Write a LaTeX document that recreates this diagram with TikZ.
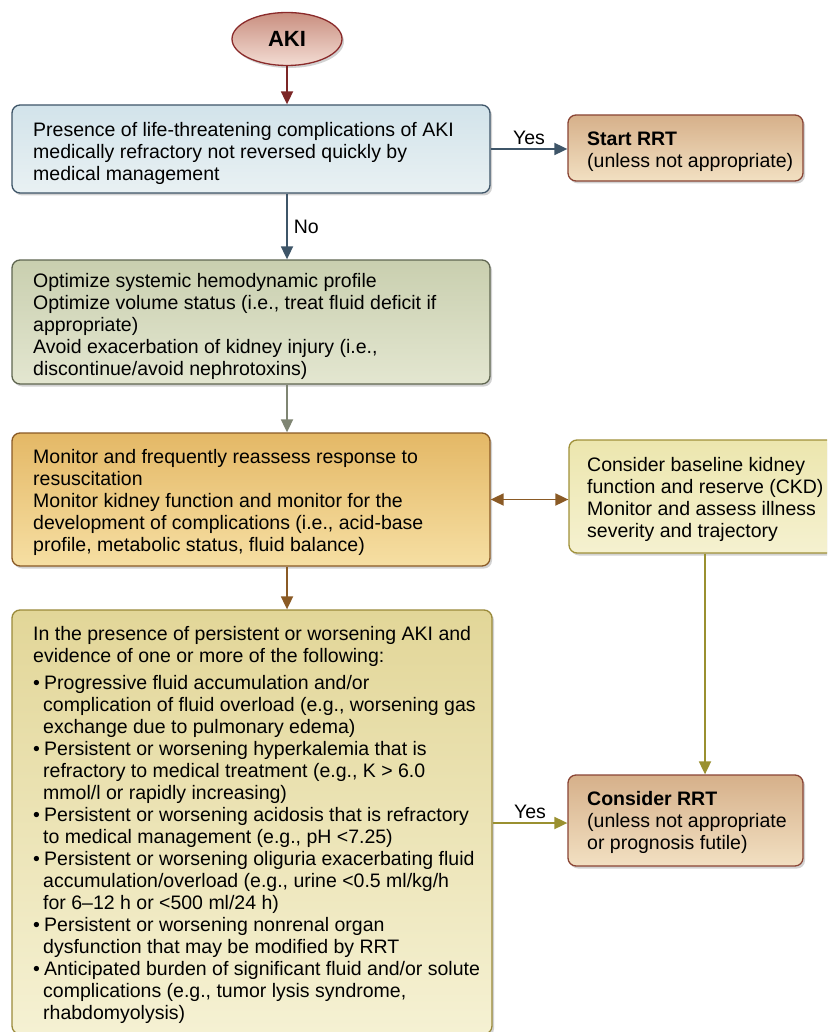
\documentclass[tikz,border=0pt]{standalone}
\usepackage{fontspec}
\setmainfont{Liberation Sans}
\usetikzlibrary{arrows.meta,shadows,shapes.geometric}
\definecolor{akiTop}{HTML}{C98F80}
\definecolor{akiBot}{HTML}{F3DCD3}
\definecolor{akiLine}{HTML}{8A2A2A}
\definecolor{blueTop}{HTML}{D2E3EA}
\definecolor{blueBot}{HTML}{E9F1F3}
\definecolor{blueLine}{HTML}{3E5568}
\definecolor{tanTop}{HTML}{D6B08A}
\definecolor{tanBot}{HTML}{F2E0C2}
\definecolor{tanLine}{HTML}{8A4535}
\definecolor{greenTop}{HTML}{C9CFAF}
\definecolor{greenBot}{HTML}{E3E6D0}
\definecolor{greenLine}{HTML}{5F6650}
\definecolor{goldTop}{HTML}{E4B866}
\definecolor{goldBot}{HTML}{F6DFA3}
\definecolor{goldLine}{HTML}{8A5A25}
\definecolor{paleTop}{HTML}{ECE6AE}
\definecolor{paleBot}{HTML}{F5F1D0}
\definecolor{paleLine}{HTML}{A0913A}
\definecolor{yelTop}{HTML}{E2D698}
\definecolor{yelBot}{HTML}{F5F1D3}
\definecolor{yelLine}{HTML}{9A8A3A}
\definecolor{oliveArrow}{HTML}{9A9030}
\tikzset{
  box/.style={rectangle, rounded corners=8pt, line width=1.3pt, inner sep=0pt,
    drop shadow={shadow xshift=2pt, shadow yshift=-2.5pt, opacity=0.35}},
  txt/.style={anchor=west, align=left, inner sep=0pt,
    font=\fontsize{19.5}{22}\selectfont},
  conn/.style={line width=1.8pt, -{Triangle[length=13pt,width=12pt]}},
  lbl/.style={font=\fontsize{19.5}{22}\selectfont, inner sep=1pt, text=black},
}
\newcommand{\bitem}{\makebox[11pt][l]{\textbullet}}
\newcommand{\bcont}{\hspace*{10pt}}
\begin{document}
\begin{tikzpicture}[x=1pt,y=-1pt]
\clip (0,0) rectangle (827,1032);
\fill[white] (0,0) rectangle (827,1032);
\coordinate (col) at (705,0);

% ---- boxes
\node[ellipse, draw=akiLine, line width=1.3pt, top color=akiTop, bottom color=akiBot,
  minimum width=110pt, minimum height=53pt, inner sep=0pt,
  font=\fontsize{22}{24}\selectfont\bfseries,
  drop shadow={shadow xshift=2pt, shadow yshift=-2.5pt, opacity=0.35}] (aki) at (287,39) {AKI};

\node[box, draw=blueLine, top color=blueTop, bottom color=blueBot,
  minimum width=478pt, minimum height=88pt] (b1) at (251,149) {};
\node[box, draw=tanLine, top color=tanTop, bottom color=tanBot,
  minimum width=235pt, minimum height=66pt] (start) at (685.5,148) {};
\node[box, draw=greenLine, top color=greenTop, bottom color=greenBot,
  minimum width=478pt, minimum height=124pt] (b2) at (251,322) {};
\node[box, draw=goldLine, top color=goldTop, bottom color=goldBot,
  minimum width=478pt, minimum height=133pt] (b3) at (251,499.5) {};
\node[box, draw=paleLine, top color=paleTop, bottom color=paleBot,
  minimum width=282pt, minimum height=113pt] (b4) at (710,496.5) {};
\node[box, draw=yelLine, top color=yelTop, bottom color=yelBot,
  minimum width=480pt, minimum height=424pt] (b5) at (252,822) {};
\node[box, draw=tanLine, top color=tanTop, bottom color=tanBot,
  minimum width=235pt, minimum height=91pt] (b6) at (685.5,820.5) {};

% ---- texts
\node[txt] (t1) at (33,153.5)
  {Presence of life-threatening complications of AKI\\
   medically refractory not reversed quickly by\\
   medical management};
\node[txt] (tstart) at (587,151.5)
  {\textbf{Start RRT}\\(unless not appropriate)};
\node[txt] (t2) at (33,326.5)
  {Optimize systemic hemodynamic profile\\
   Optimize volume status (i.e., treat fluid deficit if\\
   appropriate)\\
   Avoid exacerbation of kidney injury (i.e.,\\
   discontinue/avoid nephrotoxins)};
\node[txt] (t3) at (33,502.5)
  {Monitor and frequently reassess response to\\
   resuscitation\\
   Monitor kidney function and monitor for the\\
   development of complications (i.e., acid-base\\
   profile, metabolic status, fluid balance)};
\node[txt] (t4) at (587,499.5)
  {Consider baseline kidney\\
   function and reserve (CKD)\\
   Monitor and assess illness\\
   severity and trajectory};
\node[txt] (t5) at (33,825)
  {In the presence of persistent or worsening AKI and\\
   evidence of one or more of the following:\\[5pt]
   \bitem Progressive fluid accumulation and/or\\
   \bcont complication of fluid overload (e.g., worsening gas\\
   \bcont exchange due to pulmonary edema)\\
   \bitem Persistent or worsening hyperkalemia that is\\
   \bcont refractory to medical treatment (e.g., K > 6.0\\
   \bcont mmol/l or rapidly increasing)\\
   \bitem Persistent or worsening acidosis that is refractory\\
   \bcont to medical management (e.g., pH <7.25)\\
   \bitem Persistent or worsening oliguria exacerbating fluid\\
   \bcont accumulation/overload (e.g., urine <0.5 ml/kg/h\\
   \bcont for 6–12 h or <500 ml/24 h)\\
   \bitem Persistent or worsening nonrenal organ\\
   \bcont dysfunction that may be modified by RRT\\
   \bitem Anticipated burden of significant fluid and/or solute\\
   \bcont complications (e.g., tumor lysis syndrome,\\
   \bcont rhabdomyolysis)};
\node[txt] (t6) at (587,822.5)
  {\textbf{Consider RRT}\\(unless not appropriate\\or prognosis futile)};

% ---- connectors
\draw[conn, akiLine!90!black] (aki.south) -- (aki.south |- b1.north);
\draw[conn, blueLine] (b1.east |- start.west) ++(0,1) -- ([yshift=-1pt]start.west)
  node[lbl, midway, above=2pt] {Yes};
\draw[conn, blueLine] (aki.south |- b1.south) -- (aki.south |- b2.north)
  node[lbl, midway, right=5pt] {No};
\draw[conn, greenLine!80!white] (aki.south |- b2.south) -- (aki.south |- b3.north);
\draw[line width=1.8pt, goldLine, {Triangle[length=13pt,width=12pt]}-{Triangle[length=13pt,width=12pt]}]
  (b3.east) -- (b3.east -| b4.west);
\draw[conn, goldLine] (aki.south |- b3.south) -- (aki.south |- b5.north);
\draw[conn, oliveArrow] (b4.south -| col) -- (b6.north -| col);
\draw[conn, oliveArrow] ([yshift=-2.5pt]b6.west -| b5.east) -- ([yshift=-2.5pt]b6.west)
  node[lbl, midway, above=2pt] {Yes};
\end{tikzpicture}
\end{document}
